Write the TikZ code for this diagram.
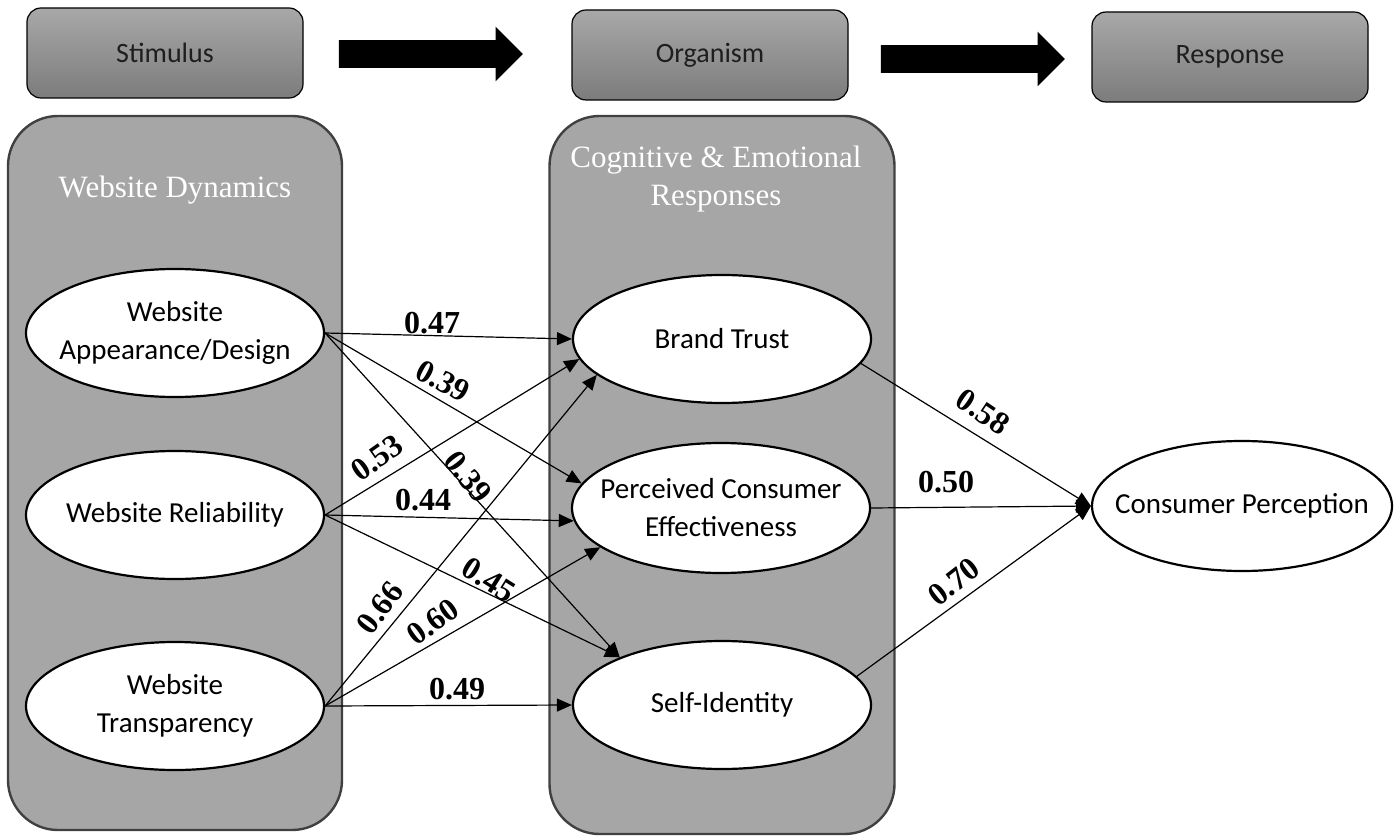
\documentclass[tikz,border=0pt]{standalone}
\usepackage{fontspec}
\setmainfont{Carlito}
\newfontfamily\numfont{Liberation Serif}
\usetikzlibrary{arrows.meta,shapes.geometric,shapes.arrows}
\definecolor{panelfill}{HTML}{A6A6A6}
\definecolor{paneldraw}{HTML}{404040}
\definecolor{stagetop}{HTML}{A8A8A8}
\definecolor{stagebot}{HTML}{7C7C7C}
\definecolor{stagetext}{HTML}{1E1E1E}
\begin{document}
\begin{tikzpicture}[
  x=0.5pt, y=-0.5pt,
  stagebox/.style={rectangle, rounded corners=7pt, draw=black, line width=0.6pt, top color=stagetop, bottom color=stagebot, minimum width=138pt, minimum height=45pt, text=stagetext, font=\fontsize{14}{17}\selectfont},
  blockarrow/.style={single arrow, fill=black, inner xsep=0pt, inner ysep=6.75pt, minimum height=92pt, single arrow head extend=6.75pt, single arrow tip angle=90},
  panel/.style={rectangle, rounded corners=25pt, fill=panelfill, draw=paneldraw, line width=1.2pt},
  paneltitle/.style={text=white, align=center, font=\numfont\fontsize{15.5}{19}\selectfont},
  construct/.style={ellipse, draw=black, line width=1.1pt, fill=white, inner xsep=-40pt, inner ysep=-20pt, minimum width=149pt, minimum height=64pt, align=center, font=\fontsize{14.5}{19}\selectfont},
  edge/.style={line width=0.6pt, -{Triangle[length=7.5pt,width=6.5pt]}},
  wlabel/.style={inner sep=1pt, font=\numfont\bfseries\fontsize{16}{18}\selectfont}
]
  \useasboundingbox (0,0) rectangle (1400,839);

  % Etapas S-O-R
  \node[stagebox] (stim) at (165,53) {Stimulus};
  \node[stagebox] (org) at (710,55) {Organism};
  \node[stagebox] (resp) at (1230,57) {Response};
  \node[blockarrow] (arr1) at (424,54) {};
  \node[blockarrow] (arr2) at (966,59) {};

  % Paneles de fondo
  \node[panel, minimum width=167pt, minimum height=357pt] (lpanel) at (175,473) {};
  \node[panel, minimum width=172.5pt, minimum height=359pt] (mpanel) at (722,475) {};
  \node[paneltitle] (ltitle) at (175,190) {Website Dynamics};
  \node[paneltitle] (mtitle) at (716,179) {Cognitive \& Emotional\\Responses};

  % Constructos
  \node[construct] (app) at (175,333) {Website\\Appearance/Design};
  \node[construct] (rel) at (175,515) {Website Reliability};
  \node[construct] (tra) at (175,706) {Website\\Transparency};
  \node[construct] (bt) at (722,339) {Brand Trust};
  \node[construct, minimum height=65pt] (pce) at (721,508) {Perceived Consumer\\Effectiveness};
  \node[construct] (si) at (722,705) {Self-Identity};
  \node[construct, minimum width=150pt, minimum height=65pt] (cp) at (1242,506) {Consumer Perception};

  % Caminos
  \foreach \src/\dst in {app/bt.west, app/pce.170, app/si.155, rel/bt.188, rel/pce.185, rel/si.155, tra/bt.196, tra/pce.198, tra/si.west}
    \draw[edge] (\src.east) -- (\dst);
  \draw[edge] (bt.350) -- (cp.west);
  \draw[edge] (pce.east) -- (cp.west);
  \draw[edge] (si.12) -- (cp.west);

  % Coeficientes
  \foreach \x/\y/\ang/\w [count=\k] in {432/323/0/0.47, 443/381/-28/0.39, 377/458/35/0.53, 468/477/-52/0.39, 423/500/0/0.44, 380/608/53/0.66, 489/580/-32/0.45, 433/622/36/0.60, 457/689/0/0.49, 983/412/-34/0.58, 946/482/0/0.50, 954/582/38/0.70}
    \node[wlabel, rotate=\ang] (w\k) at (\x,\y) {\w};
\end{tikzpicture}
\end{document}
